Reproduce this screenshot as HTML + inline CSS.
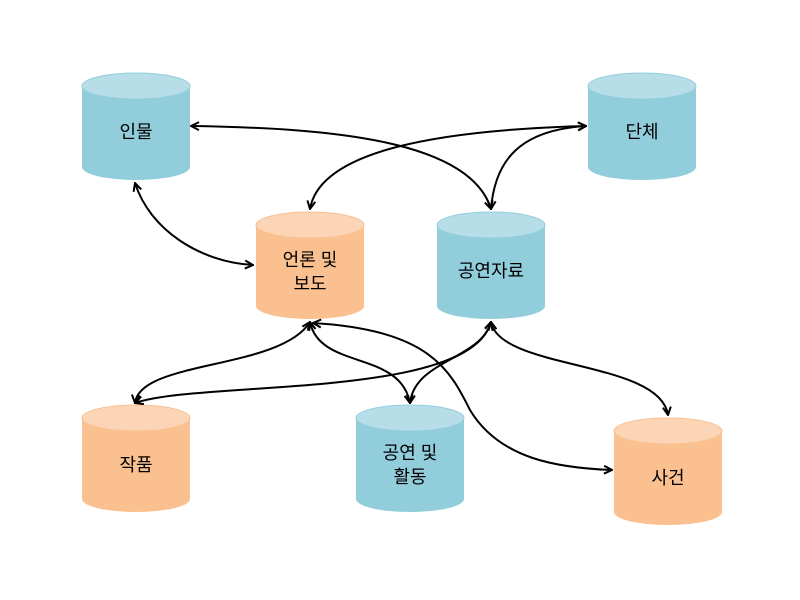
<!DOCTYPE html>
<html><head><meta charset="utf-8"><style>
html,body{margin:0;padding:0;background:#fff;}
svg{display:block;}
text{font-family:"Liberation Sans","Noto Sans CJK KR",sans-serif;font-size:18px;fill:#000;text-anchor:middle;}
</style></head><body>
<svg width="800" height="600" viewBox="0 0 800 600" xmlns="http://www.w3.org/2000/svg">
<defs>
<marker id="a" viewBox="0 0 10 10" refX="9" refY="5" markerWidth="10" markerHeight="10" markerUnits="userSpaceOnUse" orient="auto-start-reverse">
<path d="M1,1 L9,5 L1,9" fill="none" stroke="#000" stroke-width="2"/>
</marker>
<g id="cb"><path d="M0,13 L0,94 A54,13 0 0 0 108,94 L108,13 Z" fill="#92cddc"/><ellipse cx="54" cy="13" rx="54" ry="13" fill="#b7dee8" stroke="#92cddc" stroke-width="1"/></g>
<g id="co"><path d="M0,13 L0,94 A54,13 0 0 0 108,94 L108,13 Z" fill="#fac08f"/><ellipse cx="54" cy="13" rx="54" ry="13" fill="#fbd5b5" stroke="#fac08f" stroke-width="1"/></g>
</defs>
<use href="#cb" x="82" y="73"/>
<use href="#cb" x="588" y="73"/>
<use href="#co" x="256" y="212"/>
<use href="#cb" x="437" y="212"/>
<use href="#co" x="82" y="405"/>
<use href="#cb" x="356" y="405"/>
<use href="#co" x="614" y="418"/>
<text x="136" y="138">인물</text>
<text x="642" y="138">단체</text>
<text x="310" y="266">언론 및</text>
<text x="310" y="290">보도</text>
<text x="491" y="277">공연자료</text>
<text x="136" y="471">작품</text>
<text x="410" y="459">공연 및</text>
<text x="410" y="483">활동</text>
<text x="668" y="484">사건</text>
<g fill="none" stroke="#000" stroke-width="2" marker-start="url(#a)" marker-end="url(#a)">
<path d="M191,126 C330,128 470,140 491,209"/>
<path d="M586,126 C440,130 320,150 310,209"/>
<path d="M586,126 C520,130 495,160 491,209"/>
<path d="M135,183 C150,230 200,262 253,265"/>
<path d="M310,322 C280,370 140,360 135,403"/>
<path d="M491,322 C470,400 200,380 135,403"/>
<path d="M310,322 C320,370 400,350 410,403"/>
<path d="M491,322 C480,360 415,360 410,403"/>
<path d="M491,322 C500,370 660,360 668,415"/>
<path d="M313,323 C430,330 450,370 470,410 C500,460 560,468 612,470"/>
</g>
</svg>
</body></html>
